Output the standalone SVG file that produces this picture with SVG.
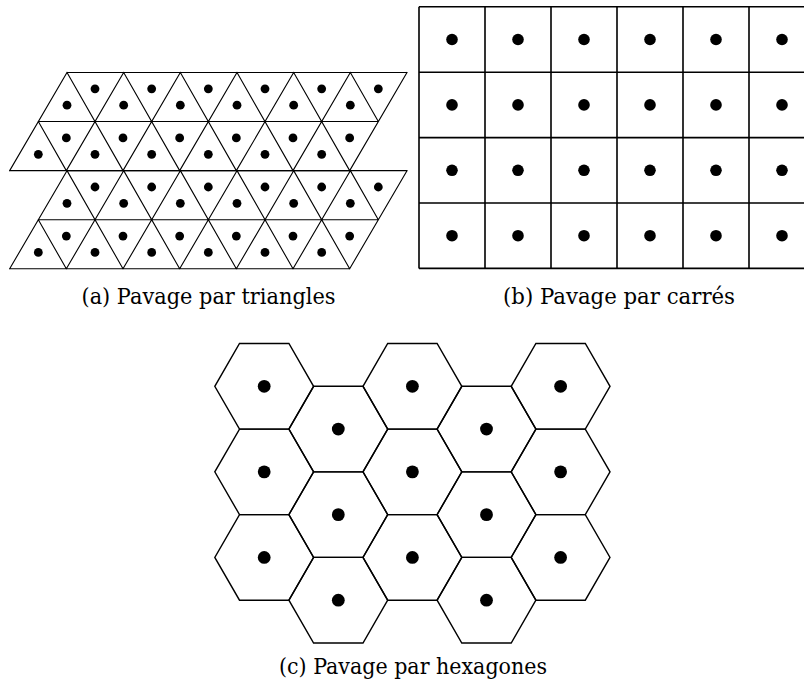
<svg xmlns="http://www.w3.org/2000/svg" width="804" height="690" viewBox="0 0 804 690">
<style>
.tri{fill:none;stroke:#000;stroke-width:1.1;stroke-linecap:square}
.sq{fill:none;stroke:#000;stroke-width:1.6}
.hex{fill:none;stroke:#000;stroke-width:1.4;stroke-linejoin:miter}
.dot{fill:#000}
</style>
<defs>
<g id="para">
<path class="tri" d="M67 0H407M38.33 49.07H378.33M9.67 98.14H349.67
M67 0L9.67 98.14M123.67 0L66.33 98.14M180.33 0L123 98.14M237 0L179.67 98.14M293.67 0L236.33 98.14M350.33 0L293 98.14M407 0L349.67 98.14
M67 0L123 98.14M123.67 0L179.67 98.14M180.33 0L236.33 98.14M237 0L293 98.14M293.67 0L349.67 98.14M350.33 0L378.33 49.07M38.33 49.07L66.33 98.14"/>
<g class="dot">
<circle cx="95" cy="16.36" r="4.4"/><circle cx="151.67" cy="16.36" r="4.4"/><circle cx="208.33" cy="16.36" r="4.4"/><circle cx="265" cy="16.36" r="4.4"/><circle cx="321.67" cy="16.36" r="4.4"/><circle cx="378.33" cy="16.36" r="4.4"/>
<circle cx="67" cy="32.71" r="4.4"/><circle cx="123.67" cy="32.71" r="4.4"/><circle cx="180.33" cy="32.71" r="4.4"/><circle cx="237" cy="32.71" r="4.4"/><circle cx="293.67" cy="32.71" r="4.4"/><circle cx="350.33" cy="32.71" r="4.4"/>
<circle cx="66.33" cy="65.43" r="4.4"/><circle cx="123" cy="65.43" r="4.4"/><circle cx="179.67" cy="65.43" r="4.4"/><circle cx="236.33" cy="65.43" r="4.4"/><circle cx="293" cy="65.43" r="4.4"/><circle cx="349.67" cy="65.43" r="4.4"/>
<circle cx="38.33" cy="81.78" r="4.4"/><circle cx="95" cy="81.78" r="4.4"/><circle cx="151.67" cy="81.78" r="4.4"/><circle cx="208.33" cy="81.78" r="4.4"/><circle cx="265" cy="81.78" r="4.4"/><circle cx="321.67" cy="81.78" r="4.4"/>
</g>
</g>
<g id="hx">
<polygon class="hex" points="49.4,0 24.7,42.78 -24.7,42.78 -49.4,0 -24.7,-42.78 24.7,-42.78"/>
<circle class="dot" cx="0" cy="0" r="6.4"/>
</g>
</defs>

<g id="triangles">
<use href="#para" transform="translate(0,72.5)"/>
<use href="#para" transform="translate(0,170.64)"/>
</g>

<g id="squares">
<path class="sq" d="M419 6.8H804M419 72.2H804M419 137.6H804M419 203H804M419 268.4H804
M419 6.8V268.4M485 6.8V268.4M551 6.8V268.4M617 6.8V268.4M683 6.8V268.4M749 6.8V268.4"/>
<g class="dot">
<circle cx="452" cy="39.5" r="5.8"/><circle cx="518" cy="39.5" r="5.8"/><circle cx="584" cy="39.5" r="5.8"/><circle cx="650" cy="39.5" r="5.8"/><circle cx="716" cy="39.5" r="5.8"/><circle cx="782" cy="39.5" r="5.8"/>
<circle cx="452" cy="104.9" r="5.8"/><circle cx="518" cy="104.9" r="5.8"/><circle cx="584" cy="104.9" r="5.8"/><circle cx="650" cy="104.9" r="5.8"/><circle cx="716" cy="104.9" r="5.8"/><circle cx="782" cy="104.9" r="5.8"/>
<circle cx="452" cy="170.3" r="5.8"/><circle cx="518" cy="170.3" r="5.8"/><circle cx="584" cy="170.3" r="5.8"/><circle cx="650" cy="170.3" r="5.8"/><circle cx="716" cy="170.3" r="5.8"/><circle cx="782" cy="170.3" r="5.8"/>
<circle cx="452" cy="235.7" r="5.8"/><circle cx="518" cy="235.7" r="5.8"/><circle cx="584" cy="235.7" r="5.8"/><circle cx="650" cy="235.7" r="5.8"/><circle cx="716" cy="235.7" r="5.8"/><circle cx="782" cy="235.7" r="5.8"/>
</g>
</g>

<g id="hexagons">
<use href="#hx" x="264.2" y="386.3"/><use href="#hx" x="264.2" y="471.86"/><use href="#hx" x="264.2" y="557.42"/>
<use href="#hx" x="338.3" y="429.08"/><use href="#hx" x="338.3" y="514.64"/><use href="#hx" x="338.3" y="600.2"/>
<use href="#hx" x="412.4" y="386.3"/><use href="#hx" x="412.4" y="471.86"/><use href="#hx" x="412.4" y="557.42"/>
<use href="#hx" x="486.5" y="429.08"/><use href="#hx" x="486.5" y="514.64"/><use href="#hx" x="486.5" y="600.2"/>
<use href="#hx" x="560.6" y="386.3"/><use href="#hx" x="560.6" y="471.86"/><use href="#hx" x="560.6" y="557.42"/>
</g>

<g id="captions" font-family="'DejaVu Serif', serif" font-size="21.5" fill="#000" text-anchor="middle">
<text x="208.5" y="303.5" textLength="254" lengthAdjust="spacingAndGlyphs">(a) Pavage par triangles</text>
<text x="619" y="303.5" textLength="232" lengthAdjust="spacingAndGlyphs">(b) Pavage par carrés</text>
<text x="413" y="673.5" textLength="268" lengthAdjust="spacingAndGlyphs">(c) Pavage par hexagones</text>
</g>
</svg>
